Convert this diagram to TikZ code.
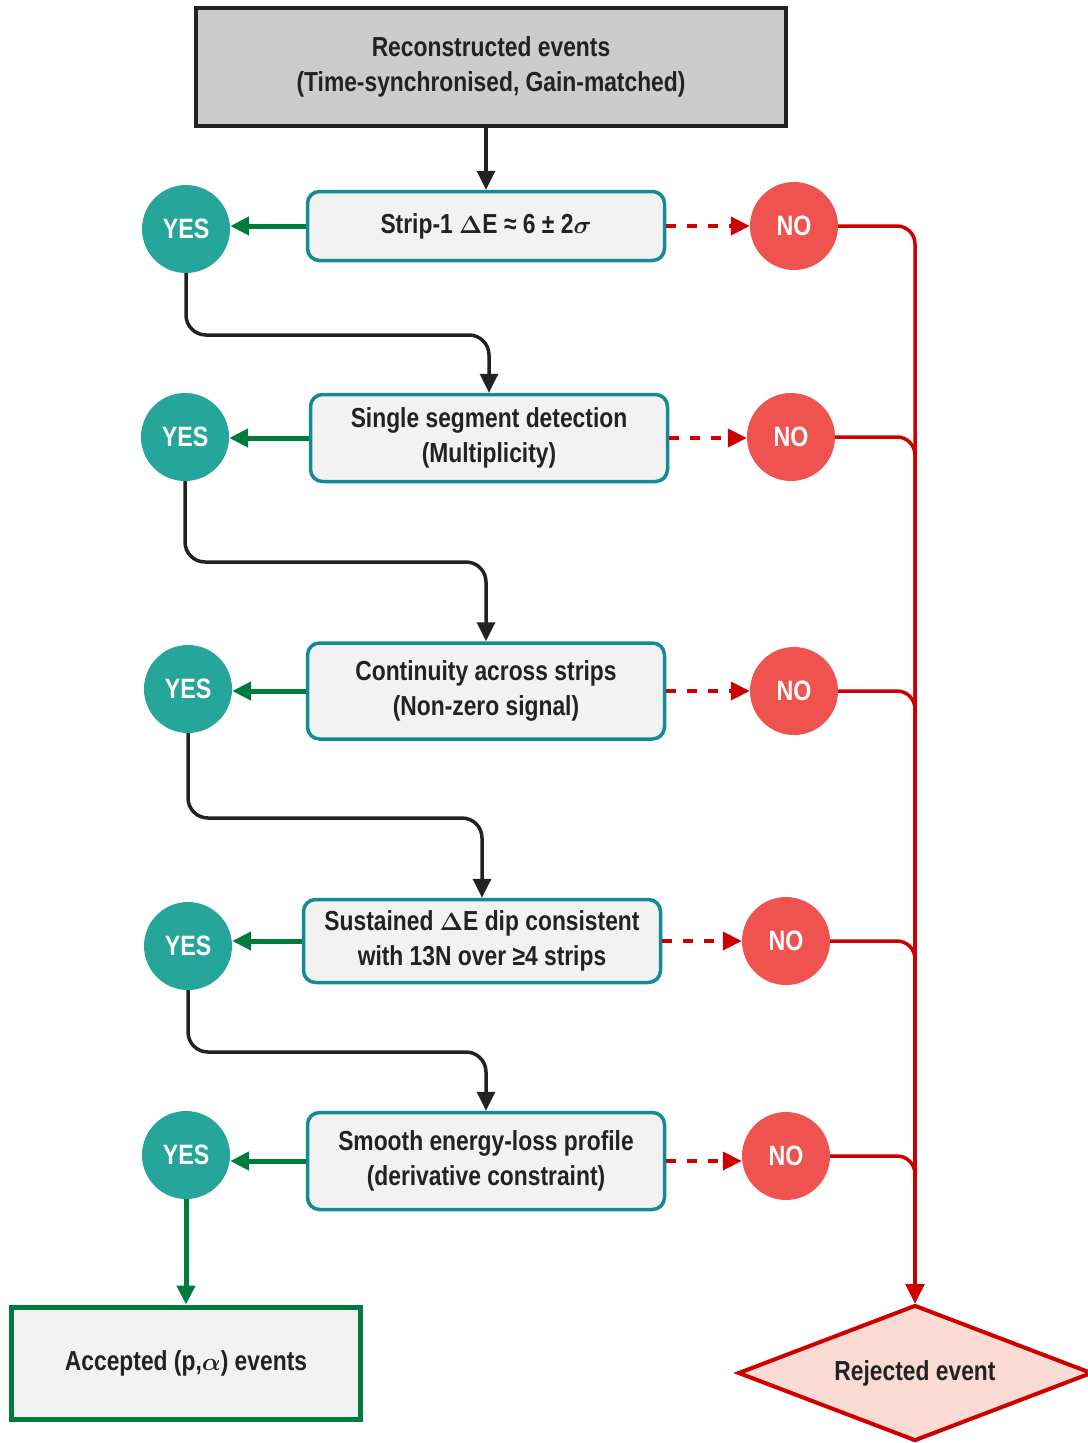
\documentclass[tikz,border=0pt]{standalone}
\usepackage{fontspec}
\setmainfont{Liberation Sans}[FakeStretch=0.83]
\usetikzlibrary{arrows.meta,shapes.geometric}

\definecolor{ink}{HTML}{222222}
\definecolor{topfill}{HTML}{CCCCCC}
\definecolor{boxfill}{HTML}{F2F2F2}
\definecolor{tealbd}{HTML}{138A96}
\definecolor{yesfill}{HTML}{26A69A}
\definecolor{nofill}{HTML}{EF5350}
\definecolor{rejred}{HTML}{CC0000}
\definecolor{rejfill}{HTML}{F9DBD3}
\definecolor{accgreen}{HTML}{007B3E}

\begin{document}
\begin{tikzpicture}[x=1pt,y=-1pt,
  txt/.style={font=\fontsize{27.5}{35}\selectfont\bfseries\boldmath, text=ink, align=center},
  topbox/.style={txt, draw=ink, fill=topfill, line width=4pt, minimum width=590pt, minimum height=118pt, inner sep=0pt},
  check/.style={txt, draw=tealbd, fill=boxfill, line width=3.5pt, rounded corners=12pt, minimum width=357pt, inner sep=0pt},
  yes/.style={circle, fill=yesfill, minimum size=88pt, inner sep=0pt, text=white, font=\fontsize{28}{30}\selectfont\bfseries},
  no/.style={circle, fill=nofill, minimum size=88pt, inner sep=0pt, text=white, font=\fontsize{28}{30}\selectfont\bfseries},
  accbox/.style={txt, draw=accgreen, fill=boxfill, line width=5pt, minimum width=349pt, minimum height=112pt, inner sep=0pt},
  rejbox/.style={txt, diamond, draw=rejred, fill=rejfill, line width=4pt, minimum width=354pt, minimum height=136pt, inner sep=0pt, aspect=2.6},
  flow/.style={draw=ink, line width=3.5pt, -{Triangle[length=19pt,width=18pt]}, rounded corners=20pt},
  yesline/.style={draw=accgreen, line width=5pt, -{Triangle[length=19pt,width=18pt]}},
  noline/.style={draw=rejred, line width=4pt, dash pattern=on 10pt off 11pt, -{Triangle[length=19pt,width=18pt]}},
  rejline/.style={draw=rejred, line width=3.5pt, rounded corners=18pt, -{Triangle[length=19pt,width=18pt]}}
]
\useasboundingbox (0,0) rectangle (1087,1443);

% input and criteria
\node[topbox] (top) at (491,67) {Reconstructed events\\(Time-synchronised, Gain-matched)};
\node[check, minimum height=69pt] (c1) at (486,226) {Strip-1 $\Delta$E ≈ 6 ± 2$\sigma$};
\node[check, minimum height=87pt] (c2) at (489,438) {Single segment detection\\(Multiplicity)};
\node[check, minimum height=96pt] (c3) at (486,691) {Continuity across strips\\(Non-zero signal)};
\node[check, minimum height=83pt] (c4) at (482,941) {Sustained $\Delta$E dip consistent\\with 13N over ≥4 strips};
\node[check, minimum height=97pt] (c5) at (486,1161) {Smooth energy-loss profile\\(derivative constraint)};

% outcomes
\node[yes] (y1) at (186,229) {YES};
\node[yes] (y2) at (185,437) {YES};
\node[yes] (y3) at (188,689) {YES};
\node[yes] (y4) at (188,946) {YES};
\node[yes] (y5) at (186,1155) {YES};
\node[no] (n1) at (794,226) {NO};
\node[no] (n2) at (791,437) {NO};
\node[no] (n3) at (794,691) {NO};
\node[no] (n4) at (786,941) {NO};
\node[no] (n5) at (786,1156) {NO};

\node[accbox] (acc) at (186,1363) {Accepted (p,$\alpha$) events};
\node[rejbox] (rej) at (915,1373) {Rejected event};

% bends between a YES and the next criterion
\coordinate (k1) at (186,335);
\coordinate (k2) at (185,562);
\coordinate (k3) at (188,818);
\coordinate (k4) at (188,1052);

% main flow
\draw[flow] (top.south -| c1.north) -- (c1.north);
\draw[flow] (y1.south) -- (k1) -| (c2.north);
\draw[flow] (y2.south) -- (k2) -| (c3.north);
\draw[flow] (y3.south) -- (k3) -| (c4.north);
\draw[flow] (y4.south) -- (k4) -| (c5.north);

% pass branches
\foreach \i in {1,...,5}{
  \draw[yesline] (c\i.west) -- (c\i.west -| y\i.east);
}
\draw[yesline] (y5.south) -- (acc.north -| y5.south);

% fail branches
\foreach \i in {1,...,5}{
  \draw[noline] (c\i.east) -- (c\i.east -| n\i.west);
  \draw[rejline] (n\i.east) -| (rej.north);
}
\end{tikzpicture}
\end{document}
